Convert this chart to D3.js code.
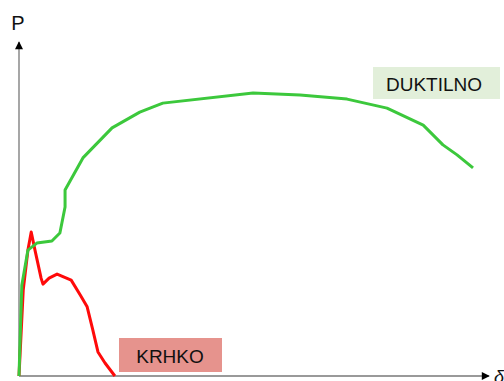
<!DOCTYPE html>
<html>
<head>
<meta charset="utf-8">
<script src="https://cdn.jsdelivr.net/npm/d3@7"></script>
<style>
  body { margin: 0; background: #fff; }
  svg { display: block; font-family: "Liberation Sans", Arial, sans-serif; }
</style>
</head>
<body>
<svg id="chart" width="504" height="381"></svg>
<script>
// Ductile curve (strain, load)
var ductStrain = [0, 0.6, 1.9, 3.8, 7.0, 8.7, 9.8, 9.8, 13.6, 19.8, 25.7, 30.6, 49.8, 59.8, 69.8, 78.3, 86.0, 90.2, 93.2, 96.6];
var ductLoad   = [0, 27.2, 37.7, 39.8, 40.4, 42.8, 50.6, 55.7, 65.3, 74.3, 79.0, 81.7, 84.7, 84.1, 82.9, 80.2, 75.1, 69.2, 66.2, 62.3];

// Brittle curve (strain, load)
var britStrain = [0, 0.9, 1.9, 2.6, 3.4, 4.7, 5.1, 6.4, 8.1, 11.1, 13.0, 14.5, 15.7, 16.8, 18.3, 20.4];
var britLoad   = [0, 25.7, 37.7, 43.1, 37.7, 29.3, 27.5, 29.3, 30.5, 28.7, 24.3, 20.7, 13.8, 7.2, 3.9, 0];

var labels = ['DUKTILNO', 'KRHKO'];

var vars = {
  width: 504,
  height: 381,
  origin: {x: 19, y: 376},
  xEnd: 489,
  yEnd: 42
};

var svg = d3.select('#chart');

var xScale = d3.scaleLinear().domain([0, 100]).range([vars.origin.x, vars.xEnd]);
var yScale = d3.scaleLinear().domain([0, 100]).range([vars.origin.y, vars.yEnd]);

var defs = svg.append('defs');
defs.append('marker')
    .attr('id', 'arrow')
    .attr('viewBox', '0 0 10 10')
    .attr('refX', 9)
    .attr('refY', 5)
    .attr('markerWidth', 9)
    .attr('markerHeight', 8)
    .attr('markerUnits', 'userSpaceOnUse')
    .attr('orient', 'auto')
  .append('path')
    .attr('d', 'M0,0 L10,5 L0,10 Z')
    .attr('fill', '#000');

// axes
svg.append('line')
    .attr('x1', xScale(0)).attr('y1', yScale(0))
    .attr('x2', xScale(100)).attr('y2', yScale(0))
    .attr('stroke', '#777').attr('stroke-width', 1.3)
    .attr('marker-end', 'url(#arrow)');

svg.append('line')
    .attr('x1', xScale(0)).attr('y1', yScale(0))
    .attr('x2', xScale(0)).attr('y2', yScale(100))
    .attr('stroke', '#777').attr('stroke-width', 1.3)
    .attr('marker-end', 'url(#arrow)');

svg.append('text')
    .attr('x', 18).attr('y', 30)
    .attr('text-anchor', 'middle')
    .attr('font-size', 20)
    .attr('fill', '#111')
    .text('P');

svg.append('text')
    .attr('x', 494).attr('y', 383)
    .attr('font-size', 18)
    .attr('font-style', 'italic')
    .attr('fill', '#111')
    .text('δ');

var line = d3.line()
    .x(function(d) { return xScale(d[0]); })
    .y(function(d) { return yScale(d[1]); });

svg.append('path')
    .datum(d3.zip(britStrain, britLoad))
    .attr('d', line)
    .attr('fill', 'none')
    .attr('stroke', '#ff0a0a')
    .attr('stroke-width', 3)
    .attr('stroke-linejoin', 'round');

svg.append('path')
    .datum(d3.zip(ductStrain, ductLoad))
    .attr('d', line)
    .attr('fill', 'none')
    .attr('stroke', '#3cc83c')
    .attr('stroke-width', 3)
    .attr('stroke-linejoin', 'round');

// label boxes
svg.append('rect')
    .attr('x', 373).attr('y', 67).attr('width', 127).attr('height', 32)
    .attr('fill', '#e2efda');
svg.append('text')
    .attr('x', 434).attr('y', 84)
    .attr('text-anchor', 'middle')
    .attr('dominant-baseline', 'central')
    .attr('font-size', 19)
    .attr('fill', '#111')
    .text(labels[0]);

svg.append('rect')
    .attr('x', 119).attr('y', 338).attr('width', 103).attr('height', 34)
    .attr('fill', '#e6938d');
svg.append('text')
    .attr('x', 170).attr('y', 356)
    .attr('text-anchor', 'middle')
    .attr('dominant-baseline', 'central')
    .attr('font-size', 19)
    .attr('fill', '#111')
    .text(labels[1]);
</script>
</body>
</html>
